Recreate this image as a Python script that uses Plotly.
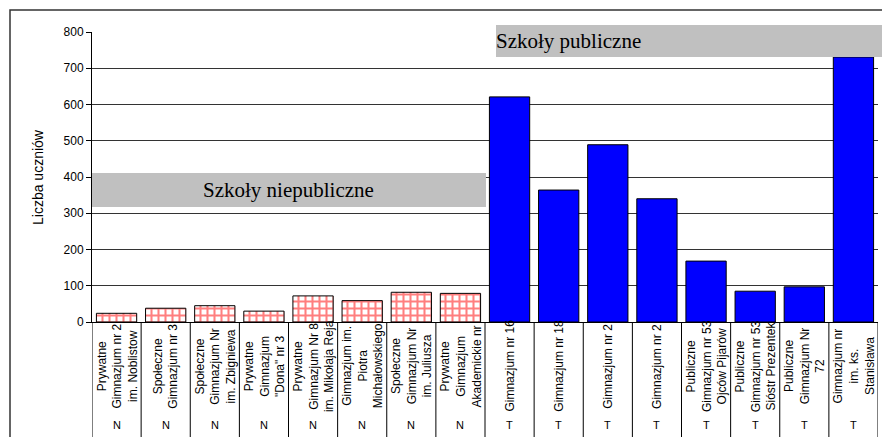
import plotly.graph_objects as go

categories = [
    "Prywatne<br>Gimnazjum nr 2<br>im. Noblistow",
    "Społeczne<br>Gimnazjum nr 3",
    "Społeczne<br>Gimnazjum Nr<br>im. Zbigniewa",
    "Prywatne<br>Gimnazjum<br>\"Dona\" nr 3",
    "Prywatne<br>Gimnazjum Nr 8<br>im. Mikołaja Reja",
    "Gimnazjum im.<br>Piotra<br>Michałowskiego",
    "Społeczne<br>Gimnazjum Nr<br>im. Juliusza",
    "Prywatne<br>Gimnazjum<br>Akademickie nr",
    "Gimnazjum nr 16",
    "Gimnazjum nr 18",
    "Gimnazjum nr 2",
    "Gimnazjum nr 2 ",
    "Publiczne<br>Gimnazjum nr 53<br>Ojców Pijarów",
    "Publiczne<br>Gimnazjum nr 53<br>Sióstr Prezentek",
    "Publiczne<br>Gimnazjum Nr<br>72",
    "Gimnazjum nr<br>im. ks.<br>Stanisława",
]
groups = ["N"] * 8 + ["T"] * 8
values = [24, 38, 45, 30, 72, 59, 82, 79, 621, 364, 489, 340, 168, 85, 97, 731]
y_ticks = [0, 100, 200, 300, 400, 500, 600, 700, 800]

W, H = 882, 437
L, R, T, B = 92, 4, 32, 115
plot_h = H - T - B
plot_w = W - L - R

def py(p):  # pixel y -> paper y
    return (H - B - p) / plot_h

def px(p):  # pixel x -> paper x
    return (p - L) / plot_w

idx = list(range(len(categories)))
n_idx = [i for i in idx if groups[i] == "N"]
t_idx = [i for i in idx if groups[i] == "T"]

fig = go.Figure()
fig.add_trace(go.Bar(
    x=n_idx, y=[values[i] for i in n_idx],
    marker=dict(color="white", line=dict(color="black", width=1),
                pattern=dict(shape="+", fgcolor="#ff0000", bgcolor="white",
                             size=7, solidity=0.5, fillmode="overlay")),
    showlegend=False, hoverinfo="skip",
))
fig.add_trace(go.Bar(
    x=t_idx, y=[values[i] for i in t_idx],
    marker=dict(color="#0000ff", line=dict(color="black", width=1)),
    showlegend=False, hoverinfo="skip",
))

shapes = []
for i in range(len(categories) + 1):
    shapes.append(dict(type="line", xref="x", yref="paper",
                       x0=i - 0.5, x1=i - 0.5, y0=0, y1=py(H + 5),
                       line=dict(color="black", width=1)))
shapes.append(dict(type="rect", xref="x", yref="y", x0=-0.5, x1=7.52,
                   y0=317, y1=411, fillcolor="#c0c0c0", line=dict(width=0),
                   layer="above"))
shapes.append(dict(type="rect", xref="paper", yref="paper", x0=px(496), x1=px(890),
                   y0=py(57), y1=py(25), fillcolor="#c0c0c0", line=dict(width=0),
                   layer="above"))
shapes.append(dict(type="rect", xref="paper", yref="paper", x0=px(10), x1=px(W + 20),
                   y0=py(H + 20), y1=py(10), line=dict(color="#333333", width=1.5),
                   fillcolor="rgba(0,0,0,0)"))

annotations = []
for i, c in enumerate(categories):
    annotations.append(dict(x=i, xref="x", y=py(366), yref="paper", text=c.strip(),
                            textangle=-90, showarrow=False, xanchor="center",
                            yanchor="middle", align="center",
                            font=dict(family="Liberation Sans, Arial", size=12, color="black")))
    annotations.append(dict(x=i, xref="x", y=py(425), yref="paper", text=groups[i],
                            showarrow=False, xanchor="center", yanchor="middle",
                            font=dict(family="Liberation Sans, Arial", size=11, color="black")))
annotations.append(dict(x=3.5, xref="x", y=364, yref="y", text="Szkoły niepubliczne",
                        showarrow=False, xanchor="center", yanchor="middle",
                        font=dict(family="Liberation Serif, Times New Roman", size=21, color="black")))
annotations.append(dict(x=px(494), xref="paper", y=py(41), yref="paper", text="Szkoły publiczne",
                        showarrow=False, xanchor="left", yanchor="middle",
                        font=dict(family="Liberation Serif, Times New Roman", size=21, color="black")))
annotations.append(dict(x=px(38), xref="paper", y=py(177), yref="paper", text="Liczba uczniów",
                        textangle=-90, showarrow=False, xanchor="center", yanchor="middle",
                        font=dict(family="Liberation Sans, Arial", size=14, color="black")))

fig.update_layout(
    width=W, height=H,
    margin=dict(l=L, r=R, t=T, b=B, pad=0),
    paper_bgcolor="white", plot_bgcolor="white",
    bargap=0.18, barmode="group",
    shapes=shapes, annotations=annotations,
    xaxis=dict(range=[-0.5, len(categories) - 0.5], showticklabels=False,
               showgrid=False, zeroline=False, showline=True, linecolor="black",
               linewidth=1, ticks=""),
    yaxis=dict(range=[0, 800], tickvals=y_ticks, showgrid=True, gridcolor="#333333",
               gridwidth=1, zeroline=False, showline=True, linecolor="black",
               linewidth=1, ticks="outside", ticklen=5, tickcolor="black",
               tickfont=dict(family="Liberation Sans, Arial", size=12, color="black")),
)
fig.write_html("out.html", config={"displayModeBar": False},
               post_script="document.body.style.margin='0';document.body.style.overflow='hidden';")
